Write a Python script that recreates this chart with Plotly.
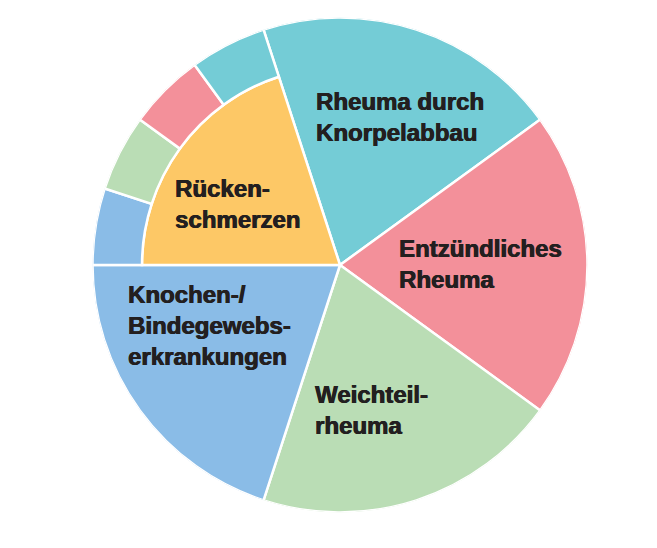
import plotly.graph_objects as go
import numpy as np

# Main categories (outer full-radius slices), share in percent
main_labels = ["Rheuma durch Knorpelabbau", "Entzündliches Rheuma", "Weichteilrheuma",
               "Knochen-/Bindegewebserkrankungen"]
main_values = [20, 20, 20, 20]
main_colors = ["#74CCD6", "#F3909A", "#BADDB5", "#8ABCE7"]

# Inner slice
inner_label = "Rückenschmerzen"
inner_value = 20
inner_color = "#FDC866"

# Small outer wedges around the inner slice (share in percent)
small_labels = ["Knochen-/Bindegewebserkrankungen", "Weichteilrheuma", "Entzündliches Rheuma",
                "Rheuma durch Knorpelabbau"]
small_values = [5, 5, 5, 5]
small_colors = ["#8ABCE7", "#BADDB5", "#F3909A", "#74CCD6"]

# Label text (line breaks as in the original)
label_texts = ["Rheuma durch<br>Knorpelabbau", "Entzündliches<br>Rheuma", "Weichteil-<br>rheuma",
               "Knochen-/<br>Bindegewebs-<br>erkrankungen", "Rücken-<br>schmerzen"]

start_deg = -18.0
deg_per_pct = 360.0 / 100.0
inner_radius_frac = 0.8

fig = go.Figure()

# main slices
ends = start_deg + np.cumsum(main_values) * deg_per_pct
starts = ends - np.array(main_values) * deg_per_pct
fig.add_trace(go.Barpolar(
    r=[1] * len(main_values), theta=(starts + ends) / 2,
    width=np.array(main_values) * deg_per_pct,
    marker=dict(color=main_colors, line=dict(color="white", width=2.5)),
    text=main_labels, hoverinfo="text", showlegend=False))

sec_start = ends[-1]
# inner slice
fig.add_trace(go.Barpolar(
    r=[inner_radius_frac], theta=[sec_start + inner_value * deg_per_pct / 2],
    width=[inner_value * deg_per_pct],
    marker=dict(color=[inner_color], line=dict(color="white", width=2.5)),
    text=[inner_label], hoverinfo="text", showlegend=False))

# small outer wedges
s_ends = sec_start + np.cumsum(small_values) * deg_per_pct
s_starts = s_ends - np.array(small_values) * deg_per_pct
fig.add_trace(go.Barpolar(
    r=[1 - inner_radius_frac] * len(small_values), base=[inner_radius_frac] * len(small_values),
    theta=(s_starts + s_ends) / 2, width=np.array(small_values) * deg_per_pct,
    marker=dict(color=small_colors, line=dict(color="white", width=2.5)),
    text=small_labels, hoverinfo="text", showlegend=False))

W, H = 657, 548
label_px = [(314, 117), (397, 264), (313, 410), (126, 325), (173, 204)]
for txt, (x, y) in zip(label_texts, label_px):
    fig.add_annotation(text="<b>" + txt.replace("<br>", "</b><br><b>") + "</b>",
                       x=x / W, y=1 - y / H, xref="paper", yref="paper",
                       xanchor="left", yanchor="middle", align="left", showarrow=False,
                       font=dict(family="Liberation Sans", size=24, color="#231F20",
                                 shadow="0.6px 0 0 #231F20, -0.3px 0 0 #231F20"))

cx, cy, R = 340, 265, 247.5
fig.update_layout(
    width=W, height=H, margin=dict(l=0, r=0, t=0, b=0),
    paper_bgcolor="white", plot_bgcolor="white",
    font=dict(family="Liberation Sans"),
    polar=dict(
        domain=dict(x=[(cx - R) / W, (cx + R) / W], y=[(H - cy - R) / H, (H - cy + R) / H]),
        bgcolor="white", bargap=0,
        radialaxis=dict(visible=False, range=[0, 1]),
        angularaxis=dict(visible=False, rotation=90, direction="clockwise"),
    ),
)

fig.write_html("out.html", config={"displayModeBar": False},
               post_script="document.body.style.margin='0';")
